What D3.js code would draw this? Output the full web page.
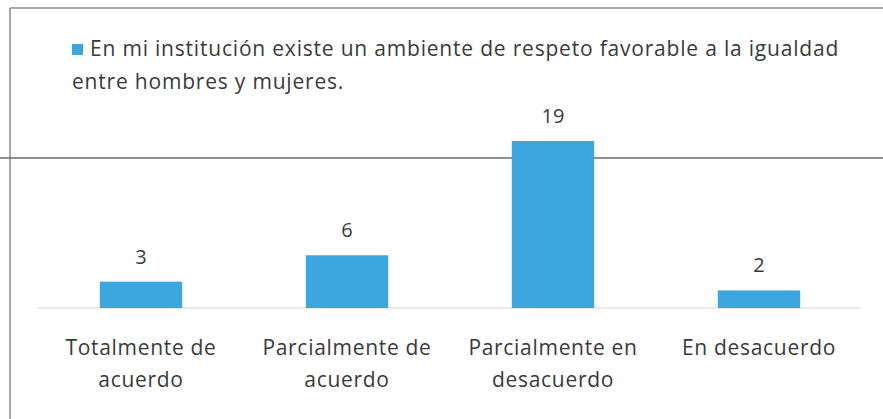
<!DOCTYPE html>
<html>
<head>
<meta charset="utf-8">
<script src="https://cdn.jsdelivr.net/npm/d3@7"></script>
<style>
  body { margin: 0; background: #fff; }
  text { font-family: "Open Sans", Lato, sans-serif; fill: #3a3a3a; }
</style>
</head>
<body>
<div id="chart_box"></div>
<script>
categories = [["Totalmente de", "acuerdo"], ["Parcialmente de", "acuerdo"], ["Parcialmente en", "desacuerdo"], ["En desacuerdo"]]
values = [3, 6, 19, 2]
legendLines = ["En mi institución existe un ambiente de respeto favorable a la igualdad", "entre hombres y mujeres."]
barColor = "#3ea6df"

chartWidth = 883
chartHeight = 419

function create_chart() {
    const svg = d3.select("#chart_box").append("svg")
        .attr("width", chartWidth)
        .attr("height", chartHeight)

    // scanned frame lines
    svg.append("line")
        .attr("x1", 10).attr("x2", chartWidth).attr("y1", 8).attr("y2", 8)
        .attr("stroke", "#9a8a90").attr("stroke-width", 1.5)
    svg.append("line")
        .attr("x1", 10).attr("x2", 10).attr("y1", 8).attr("y2", chartHeight)
        .attr("stroke", "#8a8a8a").attr("stroke-width", 1.5)
    svg.append("line")
        .attr("x1", 0).attr("x2", chartWidth).attr("y1", 158).attr("y2", 158)
        .attr("stroke", "#6a6a6a").attr("stroke-width", 1.5)

    const x = d3.scaleBand()
        .domain(d3.range(values.length))
        .range([38, 862])
        .paddingInner(0.6)
        .paddingOuter(0.3)

    const y = d3.scaleLinear()
        .domain([0, 19])
        .range([308, 141])

    svg.append("line")
        .attr("x1", 38).attr("x2", 860).attr("y1", y(0)).attr("y2", y(0))
        .attr("stroke", "#d4d4d4").attr("stroke-width", 1)

    svg.append("g").selectAll("rect")
        .data(values)
        .join("rect")
        .attr("x", (d, i) => x(i))
        .attr("y", d => y(d))
        .attr("width", x.bandwidth())
        .attr("height", d => y(0) - y(d))
        .attr("fill", barColor)

    svg.append("g").selectAll("text")
        .data(values)
        .join("text")
        .attr("x", (d, i) => x(i) + x.bandwidth() / 2)
        .attr("y", d => y(d) - 18)
        .attr("text-anchor", "middle")
        .attr("font-size", 20)
        .text(d => d)

    const labels = svg.append("g").selectAll("text")
        .data(categories)
        .join("text")
        .attr("x", (d, i) => x(i) + x.bandwidth() / 2)
        .attr("y", 355)
        .attr("text-anchor", "middle")
        .attr("font-size", 21)
        .attr("letter-spacing", 0.7)
    labels.selectAll("tspan")
        .data(d => d)
        .join("tspan")
        .attr("x", function () { return this.parentNode.getAttribute("x") })
        .attr("dy", (d, i) => i == 0 ? 0 : 32)
        .text(d => d)

    // legend
    svg.append("rect")
        .attr("x", 72).attr("y", 44).attr("width", 11).attr("height", 11)
        .attr("fill", barColor)
    svg.append("g").selectAll("text")
        .data(legendLines)
        .join("text")
        .attr("x", (d, i) => i == 0 ? 90 : 72)
        .attr("y", (d, i) => 56 + i * 33)
        .attr("font-size", 21)
        .attr("letter-spacing", 0.8)
        .text(d => d)
}

create_chart()
</script>
</body>
</html>
